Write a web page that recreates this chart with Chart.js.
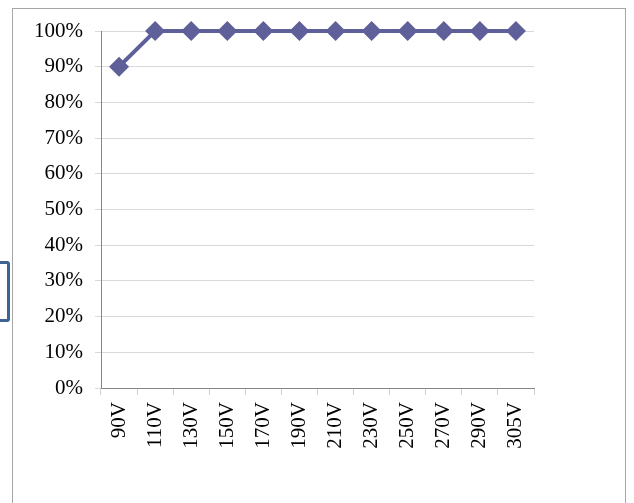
<!DOCTYPE html>
<html>
<head>
<meta charset="utf-8">
<script src="https://cdn.jsdelivr.net/npm/chart.js@4"></script>
<style>
  html, body { margin: 0; padding: 0; background: #fff; }
  #wrap { position: relative; width: 634px; height: 503px; overflow: hidden; }
  #frame { position: absolute; left: 12px; top: 8px; width: 614px; height: 520px; border: 1px solid #a6a6a6; box-sizing: border-box; }
  #handle { position: absolute; left: -12px; top: 261px; width: 16px; height: 55px; border: 3px solid #3c6393; border-radius: 3px; }
  #c { position: absolute; left: 0; top: 0; }
</style>
</head>
<body>
<div id="wrap">
  <div id="frame"></div>
  <div id="handle"></div>
  <canvas id="c" width="634" height="503"></canvas>
</div>
<script>
const categories = ['90V','110V','130V','150V','170V','190V','210V','230V','250V','270V','290V','305V'];
const values = [0.90, 1.00, 1.00, 1.00, 1.00, 1.00, 1.00, 1.00, 1.00, 1.00, 1.00, 1.00];
const yTicks = [0, 0.1, 0.2, 0.3, 0.4, 0.5, 0.6, 0.7, 0.8, 0.9, 1.0];

const lineColor = '#5f5f99';
const fontFamily = '"Liberation Serif", "DejaVu Serif", serif';

new Chart(document.getElementById('c'), {
  type: 'line',
  data: {
    labels: categories,
    datasets: [{
      data: values,
      borderColor: lineColor,
      backgroundColor: lineColor,
      borderWidth: 4,
      pointStyle: 'rectRot',
      pointRadius: 10,
      pointHoverRadius: 10,
      pointBackgroundColor: lineColor,
      pointBorderColor: lineColor,
      pointBorderWidth: 0,
      tension: 0,
      fill: false,
      clip: false
    }]
  },
  options: {
    responsive: false,
    animation: false,
    devicePixelRatio: 1,
    layout: { padding: { left: 0, top: 31, right: 100, bottom: 0 } },
    plugins: { legend: { display: false }, tooltip: { enabled: false } },
    scales: {
      x: {
        type: 'category',
        offset: true,
        grid: { display: true, drawOnChartArea: false, drawTicks: true, tickLength: 7, offset: true, color: '#d0d0d0' },
        border: { display: true, color: '#868686', width: 1 },
        ticks: {
          color: '#000', font: { family: fontFamily, size: 21 },
          minRotation: 90, maxRotation: 90, autoSkip: false, padding: 7
        },
        afterFit: (s) => { s.height = 115; }
      },
      y: {
        min: 0, max: 1,
        afterBuildTicks: (s) => { s.ticks = yTicks.map(v => ({ value: v })); },
        grid: { display: true, drawOnChartArea: true, drawTicks: true, tickLength: 6, color: '#d9d9d9' },
        border: { display: true, color: '#868686', width: 1 },
        ticks: {
          color: '#000', font: { family: fontFamily, size: 21 }, padding: 12,
          callback: (v) => Math.round(v * 100) + '%'
        },
        afterFit: (s) => { s.width = 101; }
      }
    }
  }
});
</script>
</body>
</html>
